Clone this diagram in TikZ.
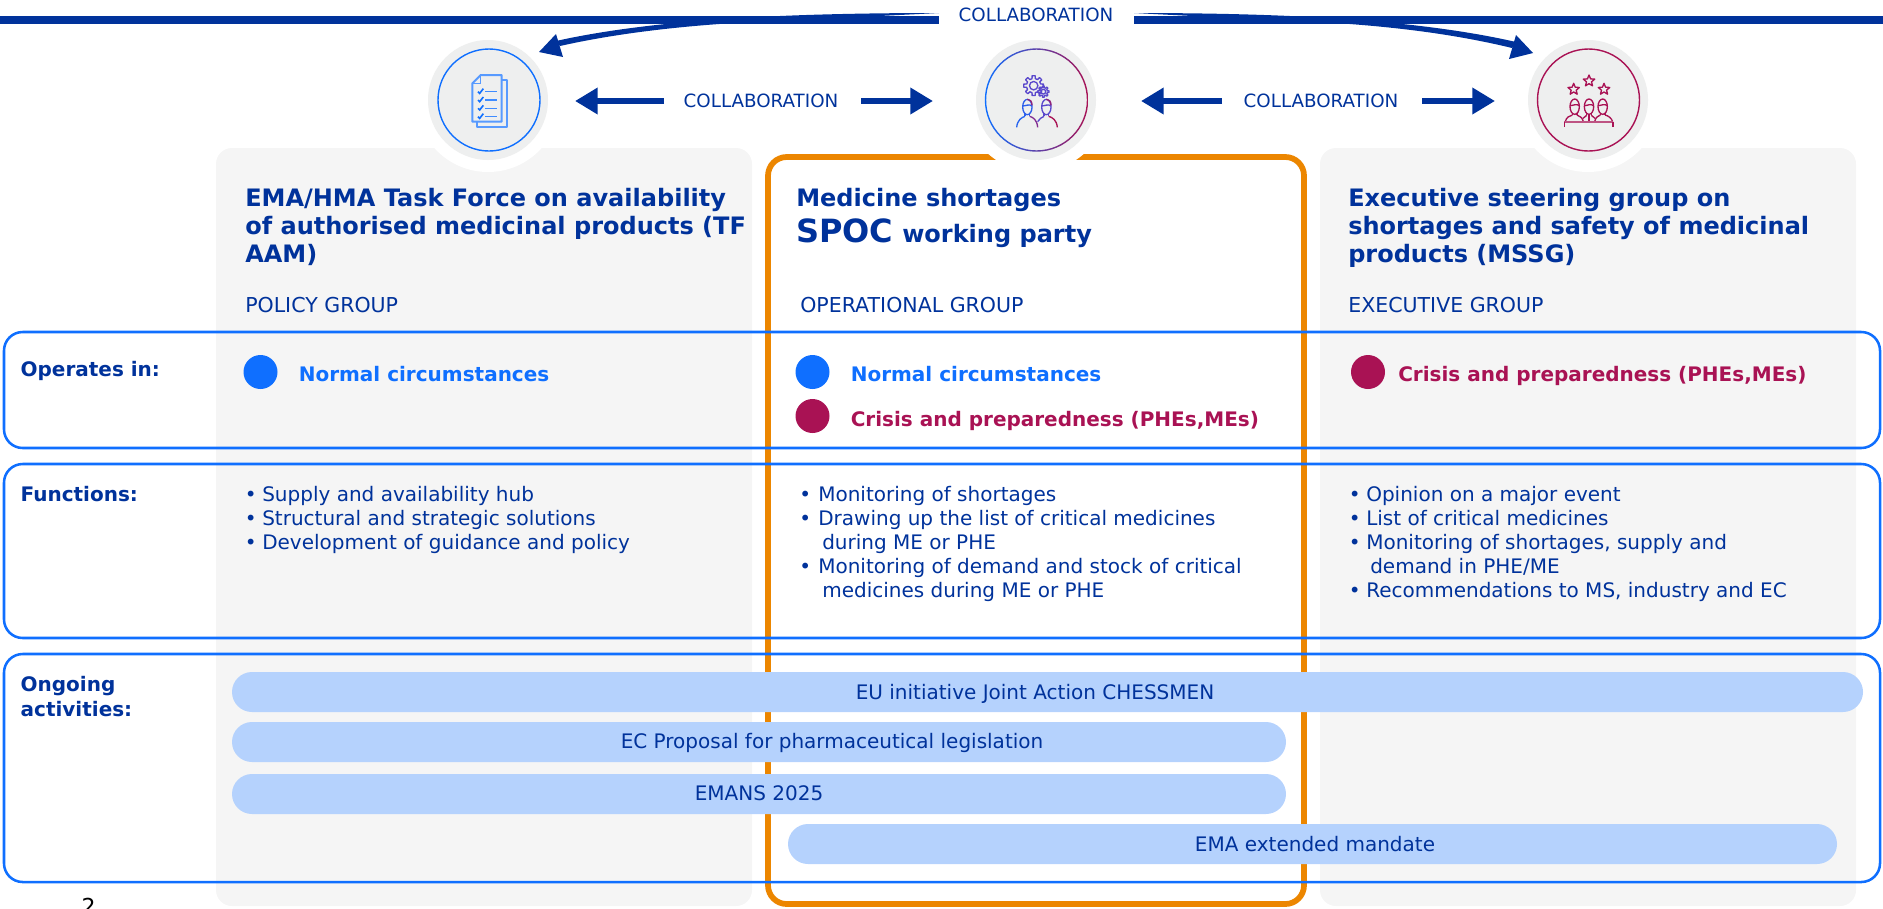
\documentclass[tikz,border=0pt]{standalone}
\usepackage{fontspec}
\usetikzlibrary{arrows.meta,shapes.misc,calc}
\setmainfont{DejaVu Sans}
\definecolor{navy}{HTML}{00329B}
\definecolor{vivid}{HTML}{0F6FFF}
\definecolor{wine}{HTML}{A91254}
\definecolor{amber}{HTML}{EC8600}
\definecolor{panel}{HTML}{F5F5F5}
\definecolor{halo}{HTML}{EEEFEF}
\definecolor{pillc}{HTML}{B5D2FD}
\definecolor{violetm}{HTML}{5A48CC}
\newcommand{\fs}[1]{\fontsize{#1}{#1}\selectfont}
\newcommand{\icperson}[3]{% x y colour
  \draw[#3] (#1,#2) ellipse (14 and 23);
  \draw[#3] (#1-14,#2-3) .. controls (#1-6,#2-3) and (#1+6,#2-10) .. (#1+14,#2-3);
  \draw[#3] (#1-7,#2+19) -- (#1-7,#2+26) (#1+7,#2+19) -- (#1+7,#2+26);
}
\newcommand{\icgear}[4]{% x y r colour
  \draw[#4] (#1,#2) circle ({#3*0.42});
  \draw[#4,line join=round] ($(#1,#2)+(-13:#3*0.72)$) \foreach \a in {0,45,...,315}{
    -- ($(#1,#2)+(\a-9:#3)$) -- ($(#1,#2)+(\a+9:#3)$) -- ($(#1,#2)+(\a+13:#3*0.72)$) -- ($(#1,#2)+(\a+32:#3*0.72)$)
  } -- cycle;
}
\newcommand{\icstar}[3]{% x y colour
  \draw[#3,line join=round] ($(#1,#2)+(-90:18)$) -- ($(#1,#2)+(-54:8)$) -- ($(#1,#2)+(-18:18)$) -- ($(#1,#2)+(18:8)$) -- ($(#1,#2)+(54:18)$) -- ($(#1,#2)+(90:8)$) -- ($(#1,#2)+(126:18)$) -- ($(#1,#2)+(162:8)$) -- ($(#1,#2)+(198:18)$) -- ($(#1,#2)+(234:8)$) -- cycle;
}
\tikzset{
  txt/.style={anchor=base west,inner sep=0pt,text=navy,font=\fs{15pt}},
  grp/.style={anchor=base west,inner sep=0pt,text=navy,font=\fs{15.4pt}},
  ttl/.style={anchor=base west,inner sep=0pt,text=navy,font=\fs{18pt}\bfseries},
  lab/.style={anchor=base west,inner sep=0pt,text=navy,font=\fs{15pt}\bfseries},
  collab/.style={inner sep=0pt,text=navy,font=\fs{13.7pt}},
  panelbox/.style={fill=panel,rounded corners=12pt},
  rowbox/.style={draw=vivid,line width=1.9pt,rounded corners=14pt},
  pillbox/.style={fill=pillc,rounded corners=15pt},
  pilltxt/.style={inner sep=0pt,text=navy,font=\fs{15pt}},
  shaft/.style={draw=navy,line width=4.5pt,-{Triangle[length=17pt,width=19pt]}},
  dot/.style={circle,inner sep=0pt,minimum size=25.5pt},
}
\begin{document}
\begin{tikzpicture}[x=0.75pt,y=-0.75pt]
\useasboundingbox (0,0) rectangle (1883,908);
% panels
\fill[panelbox] (216,148) rectangle (752,906);
\fill[panelbox] (1320,148) rectangle (1856,906);
\draw[amber,line width=4.3pt,rounded corners=14pt] (768,157) rectangle (1304,904);
% halos
\foreach \c in {488,1036,1588}{
  \fill[white] (\c,100) circle (72);
  \fill[halo] (\c,100) circle (60);
}
\coordinate (hl) at (489,100);
\coordinate (hm) at (1036.5,100);
\coordinate (hr) at (1588.5,100);
\draw[vivid,line width=1.05pt] (hl) circle (51);
\shade[left color=vivid,right color=wine,even odd rule] (hm) circle (51.7) (hm) circle (50.3);
\draw[wine,line width=1.05pt] (hr) circle (51);
% rows
\draw[rowbox] (4,332) rectangle (1880,448);
\draw[rowbox] (4,464) rectangle (1880,638);
\draw[rowbox] (4,654) rectangle (1880,882);
% top bars
\fill[navy] (0,16) rectangle (939,24);
\fill[navy] (1134,16) rectangle (1883,24);
\node[collab] (ctop) at (1036,15) {COLLABORATION};
\coordinate (tl) at (939,13);
\coordinate (tr) at (1134,13);
\coordinate (tipl) at (539,52);
\coordinate (tipr) at (1533,53);
\fill[navy] (tl) .. controls (780,13) and (650,20) .. (556,41) -- (560,46) .. controls (640,28) and (730,22) .. (800,20) -- cycle;
\fill[navy] (tipl) -- (556,34) -- (563,57) -- cycle;
\fill[navy] (tr) .. controls (1290,13) and (1420,20) .. (1516,42) -- (1512,48) .. controls (1430,28) and (1340,22) .. (1270,20) -- cycle;
\fill[navy] (tipr) -- (1516,35) -- (1509,59) -- cycle;
% collaboration arrows
\node[collab] (c1) at (761,101) {COLLABORATION};
\node[collab] (c2) at (1321,101) {COLLABORATION};
\coordinate (c1l) at (664,101); \coordinate (a1l) at (575,101);
\coordinate (c1r) at (861,101); \coordinate (a1r) at (933,101);
\coordinate (c2l) at (1222,101); \coordinate (a2l) at (1141,101);
\coordinate (c2r) at (1422,101); \coordinate (a2r) at (1495,101);
\draw[shaft] (c1l) -- (a1l);
\draw[shaft] (c1r) -- (a1r);
\draw[shaft] (c2l) -- (a2l);
\draw[shaft] (c2r) -- (a2r);
% icon 1
\begin{scope}[shift={(430,40)},x=0.25pt,y=-0.25pt,line width=1.5pt]
  \draw[vivid!70,line join=round] (215,120) -- (230,120) -- (230,260) -- (142,260) -- (142,245);
  \draw[vivid!70,line join=round] (152,105) -- (215,105) -- (215,245) -- (127,245) -- (127,130) -- cycle;
  \draw[vivid!70,line width=1.1pt] (127,130) -- (152,130) -- (152,105);
  \foreach \y in {155,180,205,230}{
    \draw[vivid,line width=1.2pt] (144,\y) -- (149,\y+5) -- (160,\y-9);
    \draw[vivid!80,line width=1.2pt] (165,\y) -- (200,\y);
  }
\end{scope}
% icon 2
\begin{scope}[shift={(1000,70)},x=0.25pt,y=-0.25pt,line width=1pt]
  \icgear{101}{47}{30}{violetm}
  \icgear{130}{65}{17}{violetm}
  \icperson{82}{111}{vivid!60!violetm}
  \icperson{139}{111}{violetm}
  \draw[wine!70!violetm] (82,88) .. controls (90,88) and (96,93) .. (96,106);
  \draw[wine!70!violetm] (139,88) .. controls (147,88) and (153,93) .. (153,106);
  \draw[vivid!70!violetm] (50,172) .. controls (52,150) and (65,142) .. (75,139);
  \draw[violetm!50!wine] (89,139) .. controls (100,142) and (111,150) .. (113,172);
  \draw[violetm] (113,155) .. controls (117,147) and (125,142) .. (132,139);
  \draw[wine] (146,139) .. controls (157,142) and (170,150) .. (172,172);
\end{scope}
% icon 3
\begin{scope}[shift={(1550,70)},x=0.25pt,y=-0.25pt,line width=1pt]
  \icstar{71}{58}{wine}
  \icstar{117}{33}{wine}
  \icstar{162}{58}{wine}
  \icperson{74}{110}{wine}
  \icperson{117}{110}{wine}
  \icperson{158}{110}{wine}
  \draw[wine] (46,155) .. controls (48,143) and (58,137) .. (67,135);
  \draw[wine] (81,135) .. controls (90,137) and (98,145) .. (100,155);
  \draw[wine] (99,145) -- (110,136) (124,136) -- (135,145);
  \draw[wine] (117,132) -- (117,155);
  \draw[wine] (134,155) .. controls (136,143) and (144,137) .. (151,135);
  \draw[wine] (165,135) .. controls (175,137) and (185,145) .. (188,155);
  \draw[wine!70!halo,line width=1.4pt] (43,157) -- (190,157);
  \draw[wine] (44,157) -- (44,170) (189,157) -- (189,170);
\end{scope}
% titles
\node[ttl] (t1a) at (245,206) {EMA/HMA Task Force on availability};
\node[ttl] (t1b) at (245,234) {of authorised medicinal products (TF};
\node[ttl] (t1c) at (245,262) {AAM)};
\node[ttl] (t2a) at (796,206) {Medicine shortages};
\node[ttl] (t2b) at (796,242) {{\fs{24pt}SPOC}};
\node[ttl] (t2c) at (902,242) {working party};
\node[ttl] (t3a) at (1348,206) {Executive steering group on};
\node[ttl] (t3b) at (1348,234) {shortages and safety of medicinal};
\node[ttl] (t3c) at (1348,262) {products (MSSG)};
\node[grp] (g1) at (245,312) {POLICY GROUP};
\node[grp] (g2) at (800,312) {OPERATIONAL GROUP};
\node[grp] (g3) at (1348,312) {EXECUTIVE GROUP};
% row labels
\node[lab] (r1) at (20.4,376) {Operates in:};
\node[lab] (r2) at (20.4,501.7) {Functions:};
\node[lab] (r3a) at (20.4,691.7) {Ongoing};
\node[lab] (r3b) at (20.4,716) {activities:};
% operates
\node[dot,fill=vivid] (d1) at (260.5,372) {};
\node[lab,text=vivid] (n1) at (298.5,381.7) {Normal circumstances};
\node[dot,fill=vivid] (d2) at (812.5,372) {};
\node[lab,text=vivid] (n2) at (850.5,381.7) {Normal circumstances};
\node[dot,fill=wine] (d3) at (812.5,416) {};
\node[lab,text=wine] (n3) at (850.5,426.7) {Crisis and preparedness (PHEs,MEs)};
\node[dot,fill=wine] (d4) at (1368,372) {};
\node[lab,text=wine] (n4) at (1398,381.7) {Crisis and preparedness (PHEs,MEs)};
% functions
\foreach \y/\t in {501.7/Supply and availability hub,525.7/Structural and strategic solutions,549.7/Development of guidance and policy}{
  \node[txt] at (244.5,\y) {•}; \node[txt] at (262,\y) {\t};
}
\foreach \y/\t in {501.7/Monitoring of shortages,525.7/Drawing up the list of critical medicines,573.7/Monitoring of demand and stock of critical}{
  \node[txt] at (799,\y) {•}; \node[txt] at (818,\y) {\t};
}
\node[txt] at (822,549.7) {during ME or PHE};
\node[txt] at (822,597.7) {medicines during ME or PHE};
\foreach \y in {501.7,525.7,549.7,597.7}{\node[txt] at (1348.5,\y) {•};}
\node[txt] (f1) at (1366,501.7) {Opinion on a major event};
\node[txt] (f2) at (1366,525.7) {List of critical medicines};
\node[txt] (f3) at (1366,549.7) {Monitoring of shortages, supply and};
\node[txt] (f4) at (1370,573.7) {demand in PHE/ME};
\node[txt] (f5) at (1366,597.7) {Recommendations to MS, industry and EC};
% pills
\fill[pillbox] (232,672) rectangle (1863,712);
\fill[pillbox] (232,722) rectangle (1286,762);
\fill[pillbox] (232,774) rectangle (1286,814);
\fill[pillbox] (788,824) rectangle (1837,864);
\node[pilltxt] (p1) at (1035,693.5) {EU initiative Joint Action CHESSMEN};
\node[pilltxt] (p2) at (832,742.5) {EC Proposal for pharmaceutical legislation};
\node[pilltxt] (p3) at (759,793) {EMANS 2025};
\node[pilltxt] (p4) at (1315,844) {EMA extended mandate};
\node[anchor=base,inner sep=0pt,text=black,font=\fs{16.5pt}] (pg) at (88.5,914) {2};
\end{tikzpicture}
\end{document}
